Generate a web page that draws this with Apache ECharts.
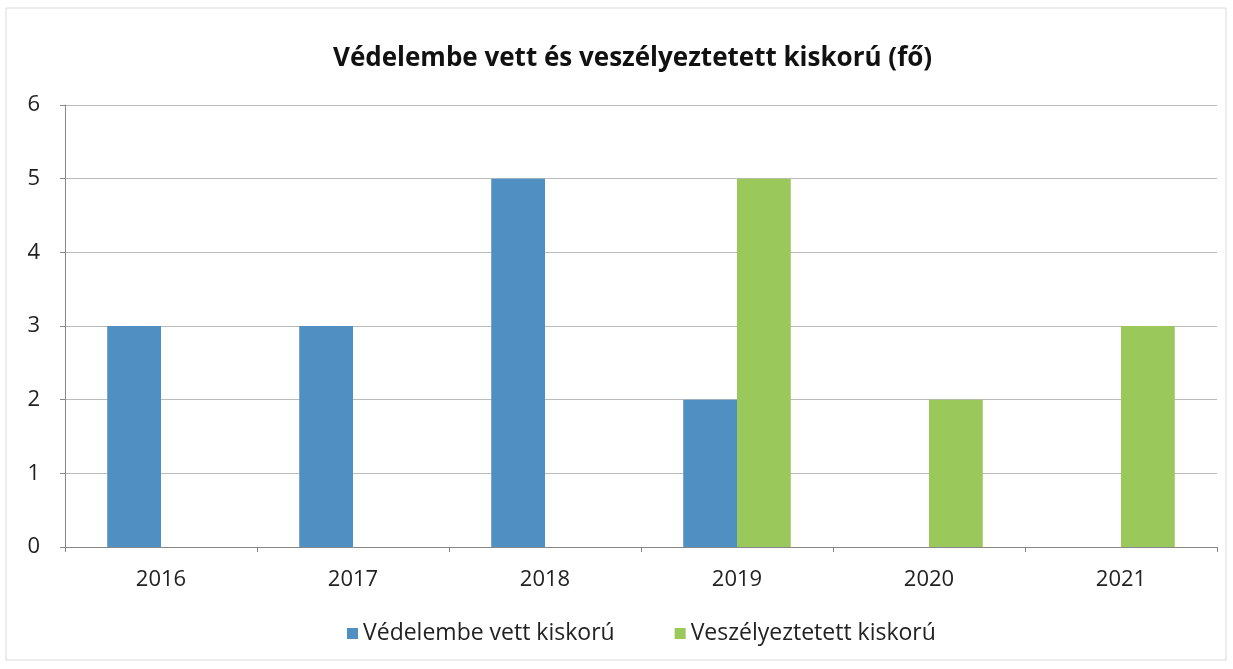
<!DOCTYPE html>
<html>
<head>
<meta charset="utf-8">
<script src="https://cdn.jsdelivr.net/npm/echarts@6/dist/echarts.min.js"></script>
<style>
  html, body { margin: 0; padding: 0; background: #fff; }
  #main { width: 1233px; height: 669px; }
</style>
</head>
<body>
<div id="main"></div>
<script>
const years = ['2016', '2017', '2018', '2019', '2020', '2021']
const vedelembe = [3, 3, 5, 2, 0, 0]
const veszelyeztetett = [0, 0, 0, 5, 2, 3]
const yTicks = [0, 1, 2, 3, 4, 5, 6]

const chart = echarts.init(document.getElementById('main'))
const font = 'Open Sans'
const option = {
  backgroundColor: '#fff',
  animation: false,
  graphic: [{
    type: 'rect',
    shape: { x: 6, y: 8, width: 1220, height: 652 },
    style: { fill: 'none', stroke: '#d9d9d9', lineWidth: 1 }
  }],
  title: {
    text: 'Védelembe vett és veszélyeztetett kiskorú (fő)',
    left: 328,
    top: 41,
    textStyle: { fontFamily: font, fontSize: 26, fontWeight: 'bold', color: '#111' }
  },
  legend: {
    data: ['Védelembe vett kiskorú', 'Veszélyeztetett kiskorú'],
    bottom: 19,
    left: 342,
    icon: 'rect',
    itemWidth: 11,
    itemHeight: 11,
    itemGap: 60,
    textStyle: { fontFamily: font, fontSize: 23, color: '#222' }
  },
  grid: { left: 65, right: 16, top: 105, bottom: 122 },
  xAxis: {
    type: 'category',
    data: years,
    axisLine: { lineStyle: { color: '#888' } },
    axisTick: { show: true, alignWithLabel: false, length: 5, lineStyle: { color: '#888' } },
    axisLabel: { fontFamily: font, fontSize: 22, color: '#222', margin: 22 }
  },
  yAxis: {
    type: 'value',
    min: yTicks[0],
    max: yTicks[yTicks.length - 1],
    interval: 1,
    axisLine: { show: true, lineStyle: { color: '#888' } },
    axisTick: { show: true, length: 5, lineStyle: { color: '#888' } },
    axisLabel: { fontFamily: font, fontSize: 22, color: '#222', margin: 25 },
    splitLine: { lineStyle: { color: '#bbb' } }
  },
  series: [
    {
      name: 'Védelembe vett kiskorú',
      type: 'bar',
      data: vedelembe,
      barGap: '0%',
      barCategoryGap: '44%',
      itemStyle: { color: '#4f8fc2' }
    },
    {
      name: 'Veszélyeztetett kiskorú',
      type: 'bar',
      data: veszelyeztetett,
      itemStyle: { color: '#9bc85a' }
    }
  ]
}
chart.setOption(option)
</script>
</body>
</html>
